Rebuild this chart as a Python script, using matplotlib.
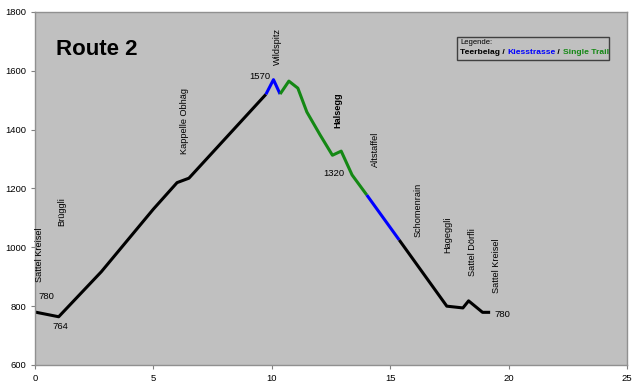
import matplotlib
matplotlib.use("Agg")
import matplotlib.pyplot as plt

plt.rcParams['font.family'] = ['Liberation Sans', 'DejaVu Sans']

# elevation profile, split by surface type (km, metres)
teer1_km = [0, 1.0, 2.8, 5.0, 6.0, 6.5, 9.75]
teer1_alt = [780, 764, 917, 1130, 1220, 1235, 1520]
kies1_km = [9.75, 10.07, 10.35]
kies1_alt = [1520, 1570, 1521]
trail_km = [10.35, 10.72, 11.1, 11.48, 12.04, 12.56, 12.93, 13.39, 14.01]
trail_alt = [1521, 1565, 1541, 1460, 1382, 1313, 1327, 1246, 1178]
kies2_km = [14.01, 15.38]
kies2_alt = [1178, 1025]
teer2_km = [15.38, 17.39, 18.07, 18.31, 18.9, 19.22]
teer2_alt = [1025, 800, 794, 818, 779, 779]

# place names (km, alt of label centre, text, bold)
places = [
    (0.21, 974, "Sattel Kreisel", False),
    (1.13, 1121, "Brüggli", False),
    (6.3, 1430, "Kappelle Obhäg", False),
    (10.25, 1683, "Wildspitz", False),
    (12.81, 1467, "Halsegg", True),
    (14.39, 1334, "Altstaffel", False),
    (16.19, 1127, "Schomenrain", False),
    (17.45, 1042, "Hageggli", False),
    (18.48, 985, "Sattel Dörfli", False),
    (19.5, 938, "Sattel Kreisel", False),
]
heights = [
    (0.46, 832, "780"),
    (1.09, 730, "764"),
    (9.5, 1582, "1570"),
    (12.64, 1252, "1320"),
    (19.75, 772, "780"),
]

fig = plt.figure(figsize=(6.4, 3.89), dpi=100)
ax = fig.add_axes([0.0547, 0.0617, 0.925, 0.9075])
ax.set_facecolor("#C0C0C0")

lw = 2.2
ax.plot(teer1_km, teer1_alt, color="black", lw=lw, solid_capstyle="butt")
ax.plot(kies1_km, kies1_alt, color="#0000FF", lw=lw, solid_capstyle="butt")
ax.plot(trail_km, trail_alt, color="#148814", lw=lw, solid_capstyle="butt")
ax.plot(kies2_km, kies2_alt, color="#0000FF", lw=lw, solid_capstyle="butt")
ax.plot(teer2_km, teer2_alt, color="black", lw=lw, solid_capstyle="butt")

for x, y, t, b in places:
    ax.text(x, y, t, rotation=90, ha="center", va="center", fontsize=6.6,
            fontweight="bold" if b else "normal")
for x, y, t in heights:
    ax.text(x, y, t, ha="center", va="center", fontsize=6.8)

ax.text(0.035, 0.895, "Route 2", transform=ax.transAxes, fontsize=16,
        fontweight="bold", va="center", ha="left")

# legend box
ax.text(0.718, 0.913, "Legende:", transform=ax.transAxes, fontsize=5.5, va="center")
lx = 0.718
for t, c in [("Teerbelag / ", "black"), ("Kiesstrasse", "#0000FF"),
             (" / ", "black"), ("Single Trail", "#148814")]:
    txt = ax.text(lx, 0.885, t, transform=ax.transAxes, fontsize=6.1,
                  fontweight="bold", color=c, va="center")
    fig.canvas.draw()
    bb = txt.get_window_extent().transformed(ax.transAxes.inverted())
    lx = bb.x1
rect = plt.Rectangle((0.713, 0.864), 0.257, 0.065, transform=ax.transAxes,
                     fill=False, edgecolor="#404040", lw=1.0)
ax.add_patch(rect)

ax.set_xlim(0, 25)
ax.set_ylim(600, 1800)
ax.set_xticks([0, 5, 10, 15, 20, 25])
ax.set_yticks([600, 800, 1000, 1200, 1400, 1600, 1800])
ax.tick_params(labelsize=6.8, length=3, color="#808080")
for s in ax.spines.values():
    s.set_color("#909090")
    s.set_linewidth(1.0)

fig.savefig("out.png", dpi=100)
